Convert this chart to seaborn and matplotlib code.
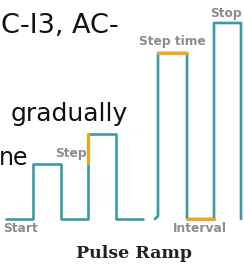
import matplotlib
matplotlib.use('Agg')
import matplotlib.pyplot as plt
import pandas as pd
import seaborn as sns

# --- data (pixel units, y grows downward) ---
# pulse waveform, left part up to the break
wave_a_x = [6, 33, 33, 61, 61, 88, 88, 116, 116, 143]
wave_a_y = [219, 219, 164, 164, 219, 219, 134, 134, 219, 219]
# pulse waveform, right part after the break
wave_b_x = [155, 158, 158, 187, 187, 214, 214, 241, 241]
wave_b_y = [219, 216, 53, 53, 219, 219, 23, 23, 219]
# highlighted parts (step, step time, interval)
hl_name = ['step', 'step', 'steptime', 'steptime', 'interval', 'interval']
hl_x = [88, 88, 158, 187, 187, 214]
hl_y = [134, 163, 53, 53, 219, 219]

labels = ['Start', 'Step', 'Step time', 'Stop', 'Interval']
body_lines = ['C-I3, AC-', 'gradually', 'ne']
title = 'Pulse Ramp'

teal = '#3b99a7'
orange = '#f2a516'

sns.set_theme(style='white')

fig = plt.figure(figsize=(2.44, 2.64), dpi=100)
ax = fig.add_axes([0, 0, 1, 1])

sns.lineplot(x=wave_a_x, y=wave_a_y, sort=False, estimator=None,
             color=teal, linewidth=1.9, ax=ax)
sns.lineplot(x=wave_b_x, y=wave_b_y, sort=False, estimator=None,
             color=teal, linewidth=1.9, ax=ax)

hl = pd.DataFrame({'part': hl_name, 'x': hl_x, 'y': hl_y})
sns.lineplot(data=hl, x='x', y='y', units='part', estimator=None, sort=False,
             color=orange, linewidth=2.3, ax=ax, legend=False)

ax.set_xlim(0, 244)
ax.set_ylim(264, 0)
ax.axis('off')

# body text on the left (what is visible of it)
ax.text(1, 33, body_lines[0], ha='left', va='baseline', fontsize=19.5,
        family='DejaVu Sans', color='#111111')
ax.text(128, 121, body_lines[1], ha='right', va='baseline', fontsize=18,
        family='DejaVu Sans', color='#111111')
ax.text(-1, 165, body_lines[2], ha='left', va='baseline', fontsize=17,
        family='DejaVu Sans', color='#111111')

# gray labels on the waveform
lab_pos = [(21, 228), (71, 154), (172, 42), (226, 14), (200, 228)]
for t, (x, y) in zip(labels, lab_pos):
    ax.text(x, y, t, ha='center', va='center', fontsize=8.8,
            family='DejaVu Sans', weight='bold', color='#8c8c8c')

ax.text(134, 254, title, ha='center', va='center', fontsize=12.5,
        family='DejaVu Serif', weight='bold', color='#222222')

fig.savefig('out.png', dpi=100, facecolor='white')
